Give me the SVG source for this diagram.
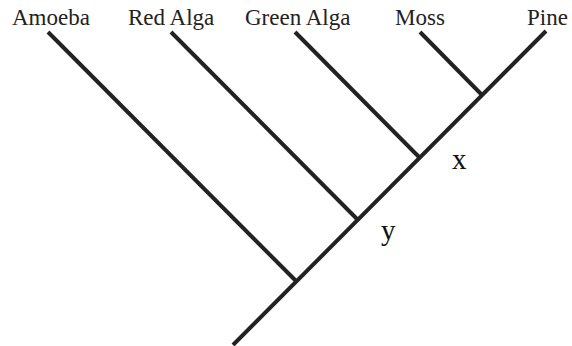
<svg xmlns="http://www.w3.org/2000/svg" width="572" height="346" viewBox="0 0 572 346">
<style>
.br{stroke:#222;stroke-width:4;stroke-linecap:butt;fill:none}
.lb{font-family:"Liberation Serif","Times New Roman",serif;font-size:23px;fill:#222}
.nd{font-family:"Liberation Serif","Times New Roman",serif;font-size:29px;fill:#111}
</style>
<rect width="572" height="346" fill="#fff"/>
<g id="connectors">
<line class="br" x1="233" y1="345" x2="546" y2="31"/>
<line class="br" x1="48" y1="32" x2="296" y2="281"/>
<line class="br" x1="171" y1="32" x2="357" y2="219"/>
<line class="br" x1="295" y1="32" x2="419" y2="157"/>
<line class="br" x1="420" y1="32" x2="482" y2="95"/>
</g>
<g id="amoeba"><text class="lb" x="12" y="25">Amoeba</text></g>
<g id="red-alga"><text class="lb" x="128" y="25">Red Alga</text></g>
<g id="green-alga"><text class="lb" x="245" y="25">Green Alga</text></g>
<g id="moss"><text class="lb" x="395" y="25">Moss</text></g>
<g id="pine"><text class="lb" x="527" y="25">Pine</text></g>
<g id="node-x"><text class="nd" x="452" y="169">x</text></g>
<g id="node-y"><text class="nd" x="381" y="240">y</text></g>
</svg>
